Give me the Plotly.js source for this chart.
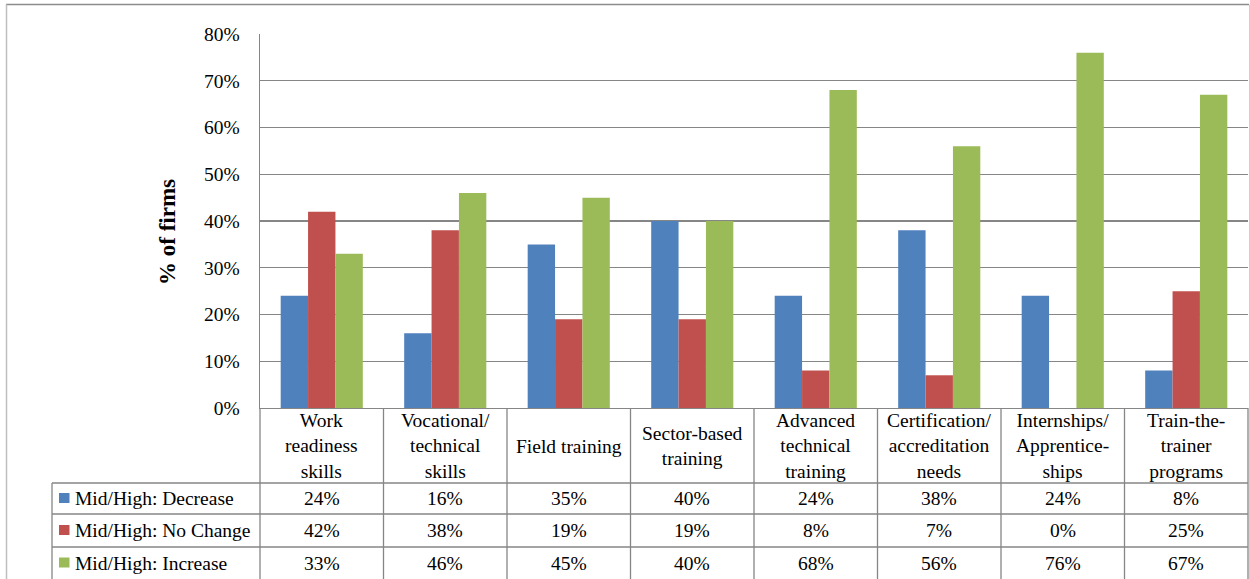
<!DOCTYPE html>
<html><head><meta charset="utf-8">
<script src="https://cdn.plot.ly/plotly-3.0.1.min.js"></script></head>
<body style="margin:0;background:#fff">
<div id="chart" style="width:1250px;height:579px"></div>
<script>
// ---- data ----
const categories = ['Work readiness skills','Vocational/technical skills','Field training','Sector-based training','Advanced technical training','Certification/accreditation needs','Internships/Apprenticeships','Train-the-trainer programs'];
const categoryLabels = ['Work<br>readiness<br>skills','Vocational/<br>technical<br>skills','Field training','Sector-based<br>training','Advanced<br>technical<br>training','Certification/<br>accreditation<br>needs','Internships/<br>Apprentice-<br>ships','Train-the-<br>trainer<br>programs'];
const seriesNames = ['Mid/High: Decrease','Mid/High: No Change','Mid/High: Increase'];
const decrease = [0.24,0.16,0.35,0.40,0.24,0.38,0.24,0.08];
const noChange = [0.42,0.38,0.19,0.19,0.08,0.07,0.00,0.25];
const increase = [0.33,0.46,0.45,0.40,0.68,0.56,0.76,0.67];
const yTickVals = [0,0.1,0.2,0.3,0.4,0.5,0.6,0.7,0.8];
const yTickText = ['0%','10%','20%','30%','40%','50%','60%','70%','80%'];
const yTitle = '% of firms';

// ---- styling ----
const colors = ['#4F81BD','#C0504D','#9BBB59'];
const FONT = 'Liberation Serif';
const FS = 19.5;
const GRID = '#868686';
const W = 1250, H = 579;
const L = 260, R = 2, T = 34, B = 171;
const plotW = W - L - R, plotH = H - T - B;
const px = p => (p - L) / plotW;           // pixel x -> paper
const py = p => (H - B - p) / plotH;       // pixel y -> paper

const series = [decrease, noChange, increase];
const traces = series.map((vals, i) => ({
  type: 'bar',
  name: seriesNames[i],
  x: categories,
  y: vals,
  marker: {color: colors[i], line: {width: 0}},
  hoverinfo: 'skip'
}));

const shapes = [];
const annotations = [];

const rowTops = [483, 514, 547];
const rowBottoms = [514, 547, 579];
const lineStyle = {color: GRID, width: 1.3};

// outer chart border
shapes.push({type:'line', xref:'paper', yref:'paper', x0:px(6), x1:px(1249), y0:py(4.5), y1:py(4.5), line:{color:'#8c8c8c', width:1.5}});
shapes.push({type:'line', xref:'paper', yref:'paper', x0:px(6.5), x1:px(6.5), y0:py(4.5), y1:py(579), line:{color:'#bfbfbf', width:1.5}});
shapes.push({type:'line', xref:'paper', yref:'paper', x0:px(1249.5), x1:px(1249.5), y0:py(4.5), y1:py(579), line:{color:'#d0d0d0', width:1}});

// horizontal table lines
rowTops.forEach(y => {
  shapes.push({type:'line', xref:'paper', yref:'paper', x0:px(52), x1:1, y0:py(y), y1:py(y), line:lineStyle});
});
shapes.push({type:'line', xref:'paper', yref:'paper', x0:px(52), x1:px(52), y0:py(483), y1:py(579), line:lineStyle});
shapes.push({type:'line', xref:'paper', yref:'paper', x0:0, x1:0, y0:0, y1:py(579), line:lineStyle});
shapes.push({type:'line', xref:'paper', yref:'paper', x0:1, x1:1, y0:0, y1:py(579), line:lineStyle});
for (let i = 1; i < categories.length; i++) {
  shapes.push({type:'line', xref:'x', yref:'paper', x0:i - 0.5, x1:i - 0.5, y0:0, y1:py(579), line:lineStyle});
}

// category header labels
categories.forEach((c, i) => {
  annotations.push({xref:'x', yref:'paper', x:c, y:py(446), text:categoryLabels[i], showarrow:false,
    xanchor:'center', yanchor:'middle', align:'center', font:{family:FONT, size:FS, color:'#000'}});
});

// legend cells + values
series.forEach((vals, r) => {
  const yc = (rowTops[r] + rowBottoms[r]) / 2;
  shapes.push({type:'rect', xref:'paper', yref:'paper', x0:px(59), x1:px(69.5), y0:py(yc - 5.5), y1:py(yc + 4.5),
    fillcolor:colors[r], line:{width:0}});
  annotations.push({xref:'paper', yref:'paper', x:px(72.5), y:py(yc), text:seriesNames[r], showarrow:false,
    xanchor:'left', yanchor:'middle', font:{family:FONT, size:FS, color:'#000'}});
  vals.forEach((v, i) => {
    annotations.push({xref:'x', yref:'paper', x:categories[i], y:py(yc), text:Math.round(v * 100) + '%', showarrow:false,
      xanchor:'center', yanchor:'middle', font:{family:FONT, size:FS, color:'#000'}});
  });
});

// y-axis title
annotations.push({xref:'paper', yref:'paper', x:px(167), y:py(232), text:'<b>' + yTitle + '</b>', textangle:-90,
  showarrow:false, xanchor:'center', yanchor:'middle', font:{family:FONT, size:23, color:'#000'}});

const layout = {
  width: W, height: H,
  margin: {l: L, r: R, t: T, b: B, pad: 0},
  paper_bgcolor: '#fff', plot_bgcolor: '#fff',
  font: {family: FONT, size: FS, color: '#000'},
  barmode: 'group', bargap: 0.335, bargroupgap: 0,
  showlegend: false,
  xaxis: {type:'category', range:[-0.5, categories.length - 0.5], showticklabels:false, ticks:'',
    showgrid:false, zeroline:false, showline:true, linecolor:GRID, linewidth:1.3, fixedrange:true},
  yaxis: {range:[0, 0.8], tickvals:yTickVals, ticktext:yTickText, showgrid:true, gridcolor:GRID, gridwidth:1.3,
    zeroline:false, showline:true, linecolor:GRID, linewidth:1.3, ticks:'outside', ticklen:15,
    tickcolor:'rgba(0,0,0,0)', tickfont:{family:FONT, size:FS, color:'#000'}, fixedrange:true},
  shapes: shapes,
  annotations: annotations
};

Plotly.newPlot('chart', traces, layout, {displayModeBar:false, staticPlot:true});
</script>
</body>
</html>
